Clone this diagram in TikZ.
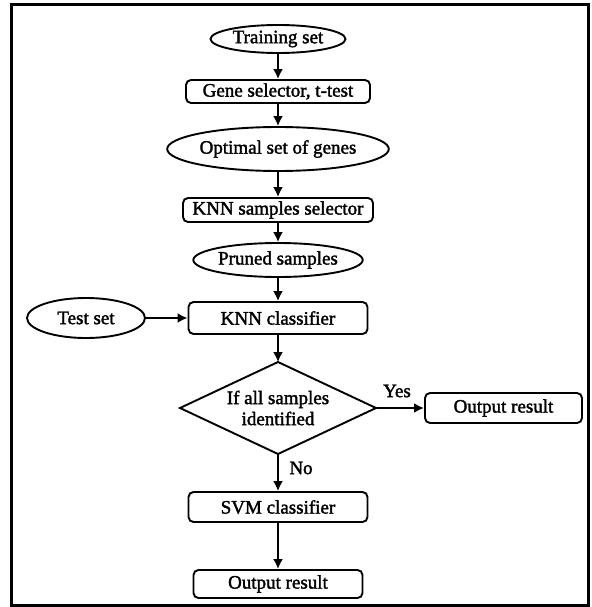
\documentclass[tikz,border=0pt]{standalone}
\usepackage{fontspec}
\setmainfont{Liberation Serif}[FakeBold=1.8]
\usetikzlibrary{shapes.geometric,arrows.meta}
\begin{document}
\begin{tikzpicture}[x=1pt,y=-1pt,
  every node/.style={font=\fontsize{19}{21}\selectfont, inner sep=0pt},
  ell/.style={ellipse, draw, line width=1.9pt},
  rbox/.style={rectangle, rounded corners=5pt, draw, line width=1.9pt},
  diaedge/.style={line width=1.9pt, line join=miter},
  arr/.style={line width=1.9pt, -{Latex[length=10pt,width=10pt]}},
  lbl/.style={font=\fontsize{19}{21}\selectfont}
]
\useasboundingbox (0,0) rectangle (591,607);
\draw[line width=3pt] (11,5) rectangle (588,605);

\node[ell, minimum width=135pt, minimum height=28pt] (tr) at (278,39) {Training set};
\node[rbox, minimum width=184pt, minimum height=23pt] (gene) at (278,91.5) {Gene selector, t-test};
\node[ell, minimum width=188pt, minimum height=44pt] (opt) at (278,149) {Optimal set of genes};
\node[rbox, minimum width=190pt, minimum height=24pt] (knns) at (278,210) {KNN samples selector};
\node[ell, minimum width=165pt, minimum height=34pt] (pruned) at (278,260) {Pruned samples};
\node[rbox, minimum width=179pt, minimum height=32pt] (knnc) at (278,318) {KNN classifier};
\node[ell, minimum width=118pt, minimum height=40pt] (test) at (86,318) {Test set};

% decision diamond
\coordinate (dt) at (278,362);
\coordinate (db) at (278,454);
\coordinate (dl) at (180,408);
\coordinate (dr) at (376,408);
\draw[diaedge] (dt) -- (dr) -- (db) -- (dl) -- cycle;
\node[align=center] (dia) at (278,408) {If all samples\\identified};

\node[rbox, minimum width=157pt, minimum height=30pt] (outr) at (503.5,408) {Output result};
\node[rbox, minimum width=179pt, minimum height=30pt] (svm) at (278,507) {SVM classifier};
\node[rbox, minimum width=169pt, minimum height=28pt] (outb) at (278,584) {Output result};

\draw[arr] (tr) -- (gene);
\draw[arr] (gene) -- (opt);
\draw[arr] (opt) -- (knns);
\draw[arr] (knns) -- (pruned);
\draw[arr] (pruned) -- (knnc);
\draw[arr] (test) -- (knnc);
\draw[arr] (knnc) -- (dt);
\draw[arr] (dr) -- (outr);
\draw[arr] (db) -- (svm);
\draw[arr] (svm) -- (outb);

\node[lbl] (yes) at (397,391) {Yes};
\node[lbl] (no) at (301,468) {No};
\end{tikzpicture}
\end{document}
